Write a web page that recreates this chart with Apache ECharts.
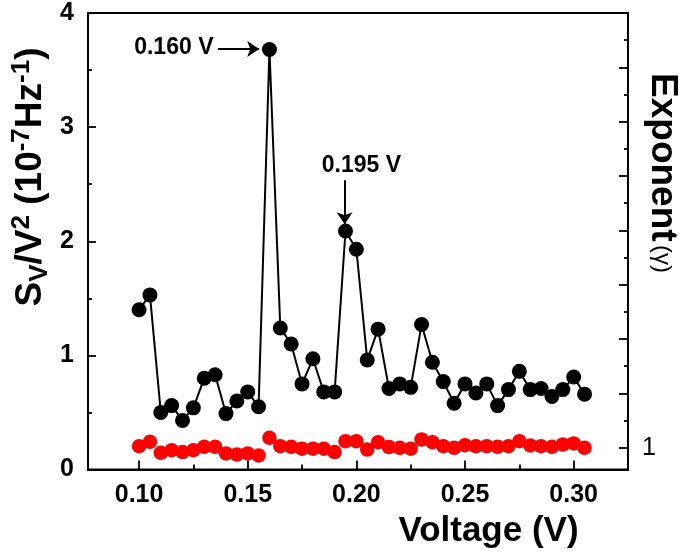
<!DOCTYPE html>
<html>
<head>
<meta charset="utf-8">
<script src="https://cdn.jsdelivr.net/npm/echarts@6/dist/echarts.min.js"></script>
<style>
html,body{margin:0;padding:0;background:#fff;}
#chart{width:685px;height:556px;}
</style>
</head>
<body>
<div id="chart"></div>
<script>
// ---- data ----
var voltage = [0.100,0.105,0.110,0.115,0.120,0.125,0.130,0.135,0.140,0.145,0.150,0.155,0.160,0.165,0.170,0.175,0.180,0.185,0.190,0.195,0.200,0.205,0.210,0.215,0.220,0.225,0.230,0.235,0.240,0.245,0.250,0.255,0.260,0.265,0.270,0.275,0.280,0.285,0.290,0.295,0.300,0.305];
var noise = [1.40,1.53,0.50,0.56,0.43,0.54,0.80,0.83,0.49,0.60,0.68,0.55,3.68,1.24,1.10,0.75,0.97,0.68,0.68,2.09,1.93,0.96,1.23,0.71,0.75,0.72,1.27,0.94,0.77,0.58,0.75,0.67,0.75,0.56,0.70,0.86,0.70,0.71,0.64,0.70,0.81,0.66];
var gamma = [1.015,1.055,0.954,0.978,0.960,0.978,1.009,1.009,0.948,0.938,0.948,0.929,1.092,1.015,1.009,0.991,0.991,0.991,0.960,1.061,1.061,0.984,1.051,1.007,1.000,0.991,1.076,1.051,1.015,1.000,1.024,1.015,1.015,1.009,1.015,1.061,1.021,1.015,1.009,1.030,1.040,1.000];
var xMajorTicks = [0.10,0.15,0.20,0.25,0.30];
var xMinorTicks = [0.125,0.175,0.225,0.275];
var rightMajorTicks = [1,1.5,2,2.5,3,3.5,4,4.5];
var rightMinorTicks = [1.25,1.75,2.25,2.75,3.25,3.75,4.25,4.75];
var rightLabels = [1];
var annotations = [
  {text:'0.160 V', textAt:[0.116,3.697], from:[0.1363,3.684], to:[0.1553,3.684]},
  {text:'0.195 V', textAt:[0.2023,2.663], from:[0.1946,2.535], to:[0.1946,2.150]}
];

var FONT = "'Liberation Sans', Arial, sans-serif";
var chart = echarts.init(document.getElementById('chart'), null, {renderer:'canvas'});

var gridRect = {left:88, right:57, top:13, bottom:86.5};
var XMIN = 0.0765, XMAX = 0.325;

var blackPts = voltage.map(function(v,i){return [v, noise[i]];});
var redPts = voltage.map(function(v,i){return [v, gamma[i]];});

var option = {
  animation:false,
  backgroundColor:'#fff',
  grid:[
    Object.assign({show:true, borderColor:'#000', borderWidth:2, backgroundColor:'transparent'}, gridRect),
    Object.assign({show:false}, gridRect)
  ],
  xAxis:[
    {type:'value', gridIndex:0, min:XMIN, max:XMAX, position:'bottom',
     axisLine:{show:true, onZero:false, lineStyle:{color:'#000', width:2}},
     axisTick:{show:true, inside:true, length:9, customValues:xMajorTicks, lineStyle:{color:'#000', width:1.8}},
     axisLabel:{show:true, customValues:xMajorTicks, margin:13, color:'#000', fontFamily:FONT, fontWeight:'bold', fontSize:25,
       formatter:function(v){return v.toFixed(2);}},
     splitLine:{show:false}},
    {type:'value', gridIndex:1, min:XMIN, max:XMAX, position:'bottom',
     axisLine:{show:false},
     axisTick:{show:true, inside:true, length:5, customValues:xMinorTicks, lineStyle:{color:'#000', width:1.8}},
     axisLabel:{show:false}, splitLine:{show:false}}
  ],
  yAxis:[
    {type:'value', gridIndex:0, min:0, max:4, interval:1, position:'left',
     axisLine:{show:true, onZero:false, lineStyle:{color:'#000', width:2}},
     axisTick:{show:true, inside:true, length:8, lineStyle:{color:'#000', width:1.8}},
     minorTick:{show:true, splitNumber:2, length:4, lineStyle:{color:'#000', width:1.8}},
     axisLabel:{margin:14, color:'#000', fontFamily:FONT, fontWeight:'bold', fontSize:25},
     splitLine:{show:false}},
    {type:'value', gridIndex:0, min:0.8, max:5, position:'right',
     axisLine:{show:true, onZero:false, lineStyle:{color:'#000', width:2}},
     axisTick:{show:true, inside:true, length:9, customValues:rightMajorTicks, lineStyle:{color:'#000', width:1.8}},
     axisLabel:{show:true, customValues:rightLabels, margin:14, color:'#000', fontFamily:FONT, fontWeight:'normal', fontSize:25},
     splitLine:{show:false}},
    {type:'value', gridIndex:1, min:0.8, max:5, position:'right',
     axisLine:{show:false},
     axisTick:{show:true, inside:true, length:4, customValues:rightMinorTicks, lineStyle:{color:'#000', width:1.8}},
     axisLabel:{show:false}, splitLine:{show:false}}
  ],
  series:[
    {type:'scatter', name:'gamma', xAxisIndex:0, yAxisIndex:1, data:redPts,
     symbol:'circle', symbolSize:14.5, itemStyle:{color:'#ff0000', opacity:1}, z:3},
    {type:'line', name:'noise', xAxisIndex:0, yAxisIndex:0, data:blackPts,
     symbol:'circle', symbolSize:15, showSymbol:true,
     itemStyle:{color:'#000', opacity:1}, lineStyle:{color:'#000', width:2}, z:4,
     markLine:{
       silent:true, animation:false,
       symbol:['none','arrow'], symbolSize:12,
       lineStyle:{color:'#000', width:2, type:'solid'},
       label:{show:false},
       data: annotations.map(function(a){return [{coord:a.from},{coord:a.to}];})
     },
     markPoint:{
       silent:true, animation:false,
       symbol:'circle', symbolSize:1, itemStyle:{color:'rgba(0,0,0,0)'},
       label:{show:true, position:'inside', color:'#000', fontFamily:FONT, fontWeight:'bold', fontSize:23,
         formatter:function(p){return p.name;}},
       data: annotations.map(function(a){return {name:a.text, coord:a.textAt};})
     }
    }
  ],
  graphic:[
    {type:'text', x:31, y:177, rotation:Math.PI/2, silent:true,
     style:{
       text:'{b|S}{sub|V}{b|/V}{sup|2}{b| (10}{sup|-7}{b|Hz}{sup|-1}{b|)}',
       align:'center', verticalAlign:'middle',
       rich:{
         b:{fontFamily:FONT, fontWeight:'bold', fontSize:37, fill:'#000', lineHeight:44, verticalAlign:'middle'},
         sub:{fontFamily:FONT, fontWeight:'bold', fontSize:26, fill:'#000', lineHeight:44, verticalAlign:'bottom'},
         sup:{fontFamily:FONT, fontWeight:'bold', fontSize:26, fill:'#000', lineHeight:44, verticalAlign:'top'}
       }
     }},
    {type:'text', x:662, y:173, rotation:-Math.PI/2, silent:true,
     style:{
       text:'{b|Exponent} {n|(γ)}',
       align:'center', verticalAlign:'middle',
       rich:{
         b:{fontFamily:FONT, fontWeight:'bold', fontSize:37, fill:'#000'},
         n:{fontFamily:FONT, fontWeight:'normal', fontSize:24, fill:'#000'}
       }
     }},
    {type:'text', x:488.5, y:531, silent:true,
     style:{text:'Voltage (V)', align:'center', verticalAlign:'middle',
       fontFamily:FONT, fontWeight:'bold', fontSize:35, fill:'#000'}}
  ]
};
chart.setOption(option);
</script>
</body>
</html>
